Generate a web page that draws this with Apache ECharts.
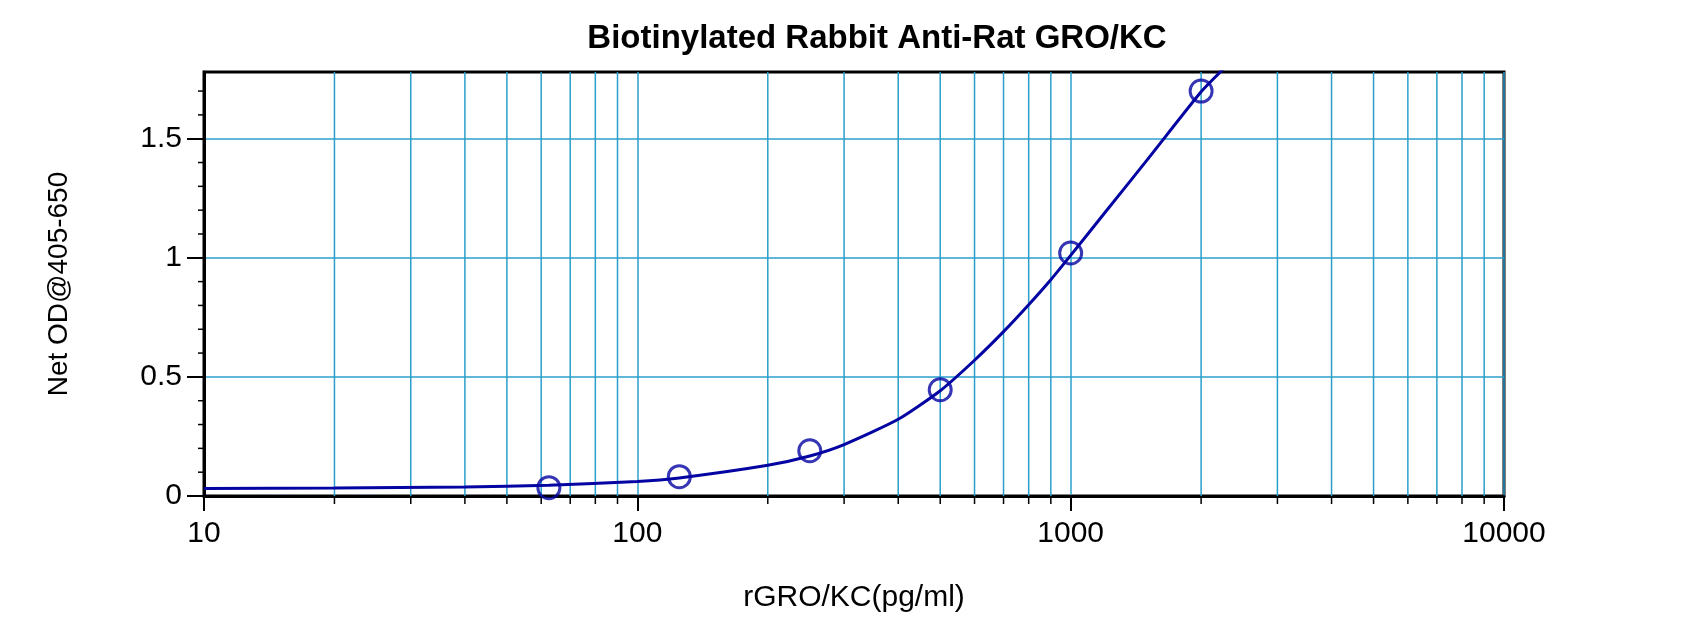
<!DOCTYPE html>
<html>
<head>
    <meta charset="utf-8">
    <title>Biotinylated Rabbit Anti-Rat GRO/KC</title>
    <script src="https://cdn.jsdelivr.net/npm/echarts@6/dist/echarts.min.js"></script>
    <style>
        html, body { margin: 0; padding: 0; background: #fff; }
        #main { width: 1700px; height: 632px; }
    </style>
</head>
<body>
<div id="main"></div>
<script type="text/javascript">
    // standard points (pg/ml, OD)
    var concentrations = [62.5, 125, 250, 500, 1000, 2000];
    var odValues = [0.035, 0.081, 0.19, 0.446, 1.02, 1.70];

    // fitted curve
    var curveX = [10, 20, 40, 62.5, 100, 125, 200, 250, 300, 400, 500, 600, 700, 800, 900, 1000, 1200, 1500, 2000, 2240, 2400];
    var curveY = [0.032, 0.034, 0.038, 0.045, 0.061, 0.076, 0.129, 0.168, 0.216, 0.322, 0.442, 0.57, 0.69, 0.803, 0.908, 1.01, 1.19, 1.41, 1.697, 1.79, 1.855];

    // axis ticks
    var xMajorTicks = [10, 100, 1000, 10000];
    var xMinorTicks = [20, 30, 40, 50, 60, 70, 80, 90, 200, 300, 400, 500, 600, 700, 800, 900,
        2000, 3000, 4000, 5000, 6000, 7000, 8000, 9000];
    var yMajorTicks = [0, 0.5, 1, 1.5];
    var yMinorTicks = [0.1, 0.2, 0.3, 0.4, 0.6, 0.7, 0.8, 0.9, 1.1, 1.2, 1.3, 1.4, 1.6, 1.7];

    var FONT = '"Liberation Sans", Arial, sans-serif';
    var GRID_COLOR = '#2b9fcc';
    var INK = '#0404a2';

    var myChart = echarts.init(document.getElementById('main'), null, {renderer: 'canvas'});

    var curveData = [];
    for (var i = 0; i < curveX.length; i++) {
        curveData.push([curveX[i], curveY[i]]);
    }
    var pointData = [];
    for (var j = 0; j < concentrations.length; j++) {
        pointData.push([concentrations[j], odValues[j]]);
    }
    var xMinorData = xMinorTicks.map(function (v) { return [v, 0]; });
    var yMinorData = yMinorTicks.map(function (v) { return [10, v]; });

    var option = {
        animation: false,
        backgroundColor: '#fff',
        title: {
            text: 'Biotinylated Rabbit Anti-Rat GRO/KC',
            left: 872,
            textAlign: 'center',
            top: 17,
            textStyle: {fontFamily: FONT, fontSize: 33, fontWeight: 'bold', color: '#000'}
        },
        grid: {
            left: 204, right: 196, top: 72, bottom: 136,
            show: true,
            borderColor: '#000',
            borderWidth: 3,
            backgroundColor: 'transparent'
        },
        xAxis: {
            type: 'log',
            logBase: 10,
            min: 10,
            max: 10000,
            name: 'rGRO/KC(pg/ml)',
            nameLocation: 'middle',
            nameGap: 87,
            nameTextStyle: {fontFamily: FONT, fontSize: 30, color: '#000'},
            axisLine: {show: true, lineStyle: {color: '#000', width: 3}},
            axisTick: {show: true, inside: false, length: 15, lineStyle: {color: '#000', width: 2}},
            axisLabel: {
                margin: 23,
                fontFamily: FONT, fontSize: 30, color: '#000',
                formatter: function (v) { return xMajorTicks.indexOf(Math.round(v)) >= 0 ? String(Math.round(v)) : ''; }
            },
            splitLine: {show: true, lineStyle: {color: GRID_COLOR, width: 1.5}}
        },
        yAxis: {
            type: 'value',
            min: 0,
            max: 1.78,
            interval: 0.5,
            name: 'Net OD@405-650',
            nameLocation: 'middle',
            nameRotate: 90,
            nameGap: 131,
            nameTextStyle: {fontFamily: FONT, fontSize: 28, color: '#000'},
            axisLine: {show: true, lineStyle: {color: '#000', width: 3}},
            axisTick: {show: true, inside: false, length: 17, customValues: yMajorTicks, lineStyle: {color: '#000', width: 2}},
            axisLabel: {
                margin: 22,
                customValues: yMajorTicks,
                fontFamily: FONT, fontSize: 30, color: '#000'
            },
            splitLine: {show: true, lineStyle: {color: GRID_COLOR, width: 1.5}}
        },
        series: [
            {
                // minor vertical gridlines + their ticks under the x axis
                type: 'custom',
                silent: true,
                z: 1,
                data: xMinorData,
                renderItem: function (params, api) {
                    var cs = params.coordSys;
                    var x = api.coord([api.value(0), api.value(1)])[0];
                    var bottom = cs.y + cs.height;
                    return {
                        type: 'group',
                        children: [
                            {type: 'line', shape: {x1: x, y1: cs.y, x2: x, y2: bottom},
                                style: {stroke: GRID_COLOR, lineWidth: 1.5}},
                            {type: 'line', shape: {x1: x, y1: bottom, x2: x, y2: bottom + 8},
                                style: {stroke: '#000', lineWidth: 1.5}}
                        ]
                    };
                }
            },
            {
                // minor ticks left of the y axis
                type: 'custom',
                silent: true,
                z: 1,
                data: yMinorData,
                renderItem: function (params, api) {
                    var cs = params.coordSys;
                    var y = api.coord([api.value(0), api.value(1)])[1];
                    return {
                        type: 'line',
                        shape: {x1: cs.x - 6, y1: y, x2: cs.x, y2: y},
                        style: {stroke: '#000', lineWidth: 1.5}
                    };
                }
            },
            {
                name: 'fit',
                type: 'line',
                data: curveData,
                smooth: 0.2,
                showSymbol: false,
                clip: true,
                z: 3,
                lineStyle: {color: INK, width: 3}
            },
            {
                name: 'standards',
                type: 'scatter',
                data: pointData,
                symbol: 'circle',
                symbolSize: 22,
                z: 4,
                itemStyle: {color: 'rgba(0,0,0,0)', borderColor: INK, borderWidth: 3}
            }
        ]
    };

    myChart.setOption(option);
</script>
</body>
</html>
